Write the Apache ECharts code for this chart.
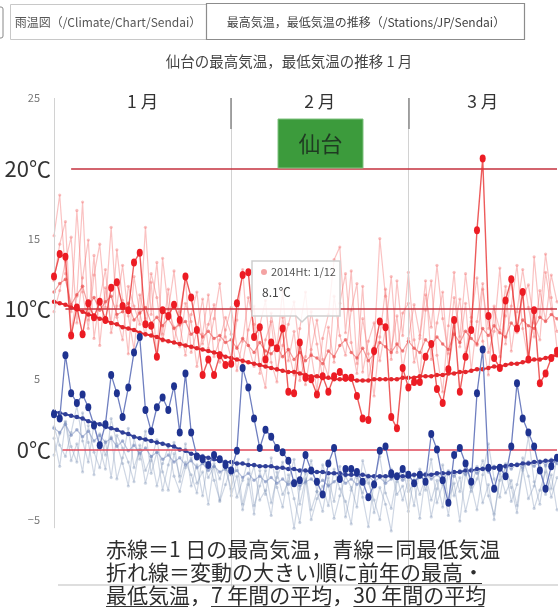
<!DOCTYPE html>
<html><head><meta charset="utf-8">
<script src="https://cdn.jsdelivr.net/npm/echarts@6/dist/echarts.min.js"></script>
<style>html,body{margin:0;padding:0;background:#fff;}#c{width:558px;height:608px;}</style>
</head><body><div id="c"></div>
<script>
const FONT = '"Noto Sans CJK JP","Noto Sans",sans-serif';

// ---- labels ----
const tabLabels = ['雨温図（/Climate/Chart/Sendai）', '最高気温，最低気温の推移（/Stations/JP/Sendai）'];
const titleText = '仙台の最高気温，最低気温の推移 1 月';
const stationName = '仙台';
const monthLabels = ['1 月', '2 月', '3 月'];
const monthLabelAt = [15.5, 46.5, 75];      // day index where month name sits
const monthStarts = [0, 31, 62];            // day index of month dividers
const yBigTicks = [20, 10, 0];              // labelled with ℃
const ySmallTicks = [25, 15, 5, -5];
const refLevels = [20, 10, 0];              // red reference lines
const refStartDay = [3, 2, 1.5];
const tipLines = ['2014Ht: 1/12', '8.1℃'];

// ---- previous year (bold) ----
const prevMax = [12.3,13.9,13.7,8.1,10.1,8.2,10.4,9.4,10.5,9.2,11.5,11.9,10.2,9.9,13.3,14.0,8.9,8.8,6.6,9.9,9.5,10.3,9.2,12.3,10.8,8.5,5.3,6.4,5.3,6.7,6.0,
 6.1,10.4,12.4,12.6,8.0,8.7,6.4,7.6,7.2,8.6,4.1,4.0,7.6,5.1,5.0,3.9,5.2,4.1,5.2,5.5,5.1,5.1,3.8,2.2,2.1,7.0,9.1,8.7,2.3,1.5,
 5.8,4.4,4.8,4.8,6.6,7.5,4.3,3.3,5.7,9.2,4.1,6.6,8.5,15.6,20.7,9.5,6.5,5.8,10.6,12.1,8.6,11.2,6.4,9.9,4.7,5.4,6.5,7.0];
const prevMin = [2.5,2.2,6.7,4.0,3.3,3.9,3.0,1.7,0.3,1.8,5.3,4.0,2.3,4.4,6.9,8.0,2.8,1.3,3.0,3.7,2.8,4.5,1.2,5.4,1.2,-0.5,-0.7,-1.1,-0.4,-0.7,-1.1,
 -1.5,-0.1,5.8,4.4,2.2,0.1,1.4,0.9,0.1,-0.2,-0.8,-2.4,-2.2,-0.4,-1.5,-2.3,-3.2,-1.0,0.1,-2.1,-1.4,-1.4,-1.6,-2.3,-3.4,-2.5,-0.1,0.2,-1.7,-1.9,
 -1.4,-1.8,-2.4,-1.8,-2.3,1.1,0.0,-2.2,-3.8,-0.4,0.1,-1.0,-2.3,4.0,7.1,-1.3,-2.8,-1.3,-1.9,0.2,4.7,2.2,1.2,0.2,-1.5,-2.8,-1.2,-0.6];

// ---- 30-year averages (smooth dotted) ----
const avg30Max = [10.5,10.4,10.3,10.1,10.0,9.8,9.6,9.5,9.3,9.2,9.0,8.9,8.7,8.6,8.5,8.3,8.2,8.1,8.0,7.8,7.7,7.6,7.5,7.4,7.3,7.2,7.1,7.0,6.9,6.8,6.6,
 6.5,6.4,6.3,6.2,6.1,6.0,5.9,5.8,5.7,5.6,5.5,5.5,5.4,5.3,5.2,5.2,5.1,5.1,5.0,5.0,5.0,5.0,4.9,4.9,4.9,5.0,5.0,5.0,5.0,5.0,
 5.1,5.1,5.1,5.2,5.2,5.2,5.3,5.3,5.4,5.4,5.5,5.5,5.6,5.7,5.7,5.8,5.9,5.9,6.0,6.1,6.1,6.2,6.3,6.4,6.4,6.5,6.6,6.7,6.8];
const avg30Min = [2.7,2.6,2.5,2.4,2.3,2.2,2.0,1.9,1.8,1.6,1.5,1.4,1.2,1.1,0.9,0.8,0.7,0.6,0.5,0.4,0.3,0.2,0.0,-0.1,-0.3,-0.4,-0.5,-0.6,-0.7,-0.8,-0.9,
 -0.9,-1.0,-1.0,-1.1,-1.1,-1.2,-1.2,-1.2,-1.3,-1.3,-1.4,-1.4,-1.5,-1.5,-1.6,-1.6,-1.6,-1.7,-1.7,-1.7,-1.8,-1.8,-1.8,-1.8,-1.9,-1.9,-1.9,-1.9,-1.9,-1.9,
 -1.9,-1.9,-1.8,-1.8,-1.8,-1.8,-1.7,-1.7,-1.7,-1.6,-1.6,-1.5,-1.5,-1.4,-1.4,-1.3,-1.3,-1.2,-1.2,-1.1,-1.1,-1.0,-1.0,-0.9,-0.9,-0.8,-0.8,-0.7];

// ---- 7-year averages ----
const avg7Max = [11.2,11.8,12.1,10.3,11.0,11.6,10.2,10.8,9.9,10.5,10.9,9.6,9.8,10.4,9.2,9.7,10.1,9.0,9.4,8.8,9.3,8.6,8.9,9.1,8.2,8.5,8.0,8.4,7.9,8.1,7.6,
 7.8,7.2,7.9,7.4,6.9,7.6,7.0,6.8,7.3,6.6,7.1,6.4,6.9,6.3,6.7,6.5,6.1,7.0,6.6,7.4,7.8,6.9,6.5,7.2,6.3,6.8,7.6,7.3,6.9,7.5,7.0,
 7.7,7.2,6.9,7.8,7.4,8.0,7.5,7.1,8.2,7.6,8.4,7.9,7.5,8.6,8.1,8.8,8.3,8.0,9.0,8.5,9.2,8.8,8.6,9.4,9.1,9.6,9.3];
const avg7Min = [1.5,1.2,1.8,1.0,1.4,0.9,1.3,0.6,1.0,0.5,0.8,0.2,0.6,-0.1,0.3,-0.3,0.1,-0.5,-0.2,-0.7,-0.4,-0.9,-0.6,-1.1,-0.8,-1.3,-1.0,-1.5,-1.2,-1.6,-1.4,
 -1.8,-1.5,-2.0,-1.7,-2.2,-1.9,-2.3,-2.0,-2.4,-2.1,-2.5,-2.2,-2.6,-2.3,-2.1,-2.5,-2.2,-2.6,-2.3,-2.0,-2.4,-2.1,-2.5,-2.2,-1.9,-2.3,-2.0,-2.4,-2.1,-1.8,-2.2,
 -1.9,-2.3,-2.0,-1.7,-2.1,-1.8,-2.2,-1.6,-1.9,-1.5,-1.8,-1.4,-1.7,-1.3,-1.6,-1.2,-1.5,-1.1,-1.4,-1.0,-1.3,-0.9,-1.2,-0.8,-1.1,-0.7,-1.0];

// ---- individual past years (faint) ----
const pastMaxA = [15.2,18.1,12.5,9.8,17.0,11.2,8.6,12.4,14.6,10.1,15.8,9.4,7.8,11.6,10.2,8.9,15.8,9.6,13.3,8.2,11.4,7.6,9.8,12.1,6.9,8.4,10.7,7.2,9.3,11.8,8.0,
 6.5,9.2,12.8,7.4,5.9,8.8,10.6,6.2,4.8,9.4,7.1,5.3,8.6,11.2,6.8,4.2,7.9,9.6,13.5,14.4,8.3,12.7,6.1,11.6,4.9,7.3,15.0,10.9,6.4,12.0,8.1,
 12.6,7.8,5.2,9.9,12.0,6.7,4.1,8.8,12.6,7.3,10.4,5.6,9.1,11.8,6.9,8.4,12.9,7.5,10.2,13.1,8.6,6.3,13.7,9.4,13.9,10.8,7.2];
const pastMaxB = [12.0,14.6,16.2,8.4,10.9,17.6,9.2,13.8,7.4,11.5,9.0,14.2,10.6,6.8,12.3,9.7,8.1,11.9,6.5,13.6,10.0,8.7,7.3,10.4,9.1,5.9,8.2,11.0,6.6,7.8,9.4,
 8.2,5.6,7.7,10.8,8.9,6.0,4.4,9.7,7.2,11.3,6.3,8.4,4.9,6.6,9.8,7.5,5.1,8.7,6.2,10.4,12.5,7.6,5.4,9.3,6.8,3.8,8.0,11.4,7.1,9.5,5.7,
 7.9,10.3,8.1,12.0,6.4,9.0,11.2,5.8,8.3,10.7,6.9,9.4,12.2,7.7,5.3,10.0,8.5,11.6,7.0,9.8,12.8,10.1,8.0,11.3,9.2,12.4,10.5];
const pastMaxC = [9.8,11.3,13.4,15.1,9.0,12.2,14.9,7.9,10.7,12.8,8.3,10.2,13.1,9.5,7.1,11.0,9.3,12.5,10.8,7.7,9.9,12.7,8.8,6.7,9.6,11.2,7.5,8.9,10.3,6.2,8.5,
 10.1,7.3,6.1,8.5,10.2,5.4,7.8,9.1,5.6,7.4,8.9,10.5,6.9,4.6,7.1,9.2,6.4,5.2,10.9,8.1,6.7,9.9,11.8,5.5,7.7,9.0,6.3,8.6,12.3,6.9,9.7,
 10.4,6.2,7.9,11.0,8.7,13.1,9.3,6.8,10.8,8.0,12.5,9.1,7.4,11.4,8.6,10.2,6.6,9.5,12.1,8.3,10.9,11.7,9.0,7.8,12.6,10.0,8.4];
const pastMinA = [0.8,-1.2,1.9,0.2,-0.9,2.6,0.5,-1.8,1.1,-0.4,0.9,-2.1,-0.6,1.5,-1.3,0.0,-2.4,-0.8,0.7,-1.6,-2.9,-0.3,-1.9,0.4,-2.6,-1.1,-3.3,-0.7,-2.2,-3.6,-1.4,
 -2.8,-0.9,-3.9,-2.1,-4.6,-1.5,-3.2,-0.6,-2.7,-4.1,-1.8,-3.5,-5.2,-2.4,-0.8,-3.0,-4.4,-2.0,-3.7,-1.2,-4.8,-2.9,-1.6,-3.4,-5.5,-2.3,-0.5,-3.1,-4.2,-1.9,-3.6,
 -2.2,-4.0,-1.4,-2.9,-0.7,-3.8,-2.5,-4.7,-1.6,-3.0,-0.9,-2.6,-4.3,-1.8,0.4,-2.1,-3.4,-1.0,-2.7,-4.5,-1.5,0.9,-2.3,-3.9,-1.2,-2.8,-0.6];
const pastMinB = [1.6,0.3,-0.5,1.2,3.1,0.6,-0.9,1.8,0.1,-1.4,2.2,0.4,-1.0,-2.6,0.8,-0.7,1.3,-1.7,-0.2,-2.9,-1.1,0.5,-2.3,-0.9,-1.8,-3.1,-0.4,-2.0,-1.2,-3.7,-2.5,
 -1.3,-3.4,-2.2,-0.7,-4.0,-2.6,-1.5,-3.8,-2.0,-0.9,-3.1,-5.6,-2.8,-1.7,-4.3,-3.0,-1.1,-2.5,-4.9,-3.3,-1.9,-2.7,-4.1,-0.8,-2.4,-3.6,-5.0,-2.2,-1.4,-3.2,-2.6,
 -4.4,-1.9,-3.2,-2.0,-4.8,-2.8,-1.1,-3.5,-2.4,-5.1,-1.7,-3.0,-2.1,-0.8,-3.3,-4.6,-2.2,-1.3,-3.7,-2.5,-0.6,-1.9,-4.2,-2.9,-1.6,-3.4,-2.0];
const pastMinC = [-0.4,1.1,2.0,-0.8,0.4,-1.6,1.7,-0.2,-1.3,0.6,-2.0,1.0,0.1,-0.9,-2.3,0.3,-1.5,-0.5,-2.6,-1.0,0.2,-1.9,-3.0,-1.3,-0.6,-2.4,-1.6,-3.9,-1.0,-2.1,-0.8,
 -3.3,-1.9,-4.3,-2.5,-1.2,-3.6,-2.9,-4.7,-1.6,-3.2,-2.3,-0.7,-3.9,-2.1,-5.0,-3.5,-2.6,-4.0,-1.4,-2.8,-3.7,-5.3,-2.0,-3.1,-1.8,-4.5,-2.7,-3.9,-5.8,-2.3,-1.5,
 -3.0,-2.4,-4.9,-1.8,-3.6,-2.2,-4.1,-1.5,-3.3,-2.0,-4.4,-2.7,-1.2,-3.8,-2.5,-5.0,-1.7,-3.1,-2.2,-4.0,-1.4,-3.5,-2.6,-0.9,-3.2,-1.8,-4.3];

const LAST = prevMax.length - 1;
const pts = arr => arr.map((v, i) => [i, v]);

function faint(arr, color) {
  return { type: 'line', data: pts(arr), symbol: 'circle', symbolSize: 3.2, silent: true,
    lineStyle: { width: 1.2, color: color }, itemStyle: { color: color }, z: 2 };
}
const PINK = 'rgba(242,110,110,0.42)', GREY = 'rgba(130,150,185,0.38)';

const chart = echarts.init(document.getElementById('c'), null, { renderer: 'canvas' });

const series = [
  Object.assign(faint(pastMaxA, PINK), {
    markLine: { silent: true, symbol: 'none', label: { show: false }, animation: false,
      data: monthStarts.map((d, k) => [
        { coord: [d, 25], lineStyle: { color: '#d2d2d2', width: 1, type: 'solid' } },
        { coord: [d, k === 0 ? -5.6 : -10] }
      ]).concat(monthStarts.slice(1).map(d => [
        { coord: [d, 25], lineStyle: { color: '#8a8a8a', width: 1.5, type: 'solid' } },
        { coord: [d, 22.8] }
      ])) } }),
  faint(pastMaxB, PINK),
  faint(pastMaxC, PINK),
  faint(pastMinA, GREY),
  faint(pastMinB, GREY),
  faint(pastMinC, GREY),
  { type: 'line', data: pts(avg7Max), symbol: 'circle', symbolSize: 3.5, silent: true, z: 3,
    lineStyle: { width: 1.2, color: 'rgba(235,80,80,0.55)' }, itemStyle: { color: 'rgba(235,80,80,0.7)' } },
  { type: 'line', data: pts(avg7Min), symbol: 'circle', symbolSize: 3.5, silent: true, z: 3,
    lineStyle: { width: 1.2, color: 'rgba(120,140,190,0.5)' }, itemStyle: { color: 'rgba(120,140,190,0.6)' } },
  { type: 'line', data: pts(avg30Max), symbol: 'circle', symbolSize: 4.5, silent: true, z: 4,
    lineStyle: { width: 2, color: '#e4262c' }, itemStyle: { color: '#e4262c' } },
  { type: 'line', data: pts(avg30Min), symbol: 'circle', symbolSize: 4.5, silent: true, z: 4,
    lineStyle: { width: 2, color: '#3a4a9e' }, itemStyle: { color: '#2f3f98' },
    markLine: { silent: true, symbol: 'none', label: { show: false }, animation: false,
      data: refLevels.map((v, k) => [
        { coord: [refStartDay[k], v], lineStyle: { color: v === 0 ? '#e0485a' : '#c4303e', width: 1.6, type: 'solid' } },
        { coord: [LAST, v] }
      ]) } },
  { type: 'line', data: pts(prevMin), symbol: 'circle', symbolSize: [6, 8], silent: true, z: 5,
    lineStyle: { width: 1.3, color: '#6f7fc0' }, itemStyle: { color: '#1f3390' } },
  { type: 'line', data: pts(prevMax), symbol: 'circle', symbolSize: [6, 8], silent: true, z: 6,
    lineStyle: { width: 1.4, color: 'rgba(232,50,50,0.8)' }, itemStyle: { color: '#ec1c24' } }
];

chart.setOption({
  animation: false,
  backgroundColor: '#fff',
  grid: { left: 54, right: 1, top: 98, bottom: 18, containLabel: false },
  xAxis: { type: 'value', min: 0, max: LAST, interval: 31, axisLine: { show: false },
    axisTick: { show: false }, axisLabel: { show: false }, splitLine: { show: false } },
  yAxis: { type: 'value', min: -10, max: 25, interval: 5, axisLine: { show: false },
    axisTick: { show: false }, splitLine: { show: false },
    axisLabel: { margin: 3, fontFamily: FONT,
      formatter: v => yBigTicks.indexOf(v) >= 0 ? '{b|' + v + '℃}' : (ySmallTicks.indexOf(v) >= 0 ? '{s|' + (v < 0 ? '−' + (-v) : v) + '}' : ''),
      rich: {
        b: { fontSize: 22, color: '#333', fontFamily: FONT },
        s: { fontSize: 11, color: '#777', fontFamily: FONT, padding: [0, 11, 0, 0] }
      } } },
  series: series
});

// ---- decorations (texts, boxes) ----
const ctx = document.createElement('canvas').getContext('2d');
function textW(t, size) { ctx.font = size + 'px ' + FONT; return ctx.measureText(t).width; }

const g = [];
// tabs
g.push({ type: 'rect', shape: { x: -20, y: 7, width: 23, height: 31, r: 2 }, style: { fill: '#fff', stroke: '#888', lineWidth: 1 }, z: 100 });
g.push({ type: 'rect', shape: { x: 10.5, y: 4.5, width: 196, height: 35 }, style: { fill: '#fff', stroke: '#c8c8c8', lineWidth: 1 }, z: 100 });
g.push({ type: 'rect', shape: { x: 206.5, y: 3.5, width: 318, height: 36 }, style: { fill: '#fff', stroke: '#8c8c8c', lineWidth: 1.2 }, z: 101 });
g.push({ type: 'text', x: 108, y: 22, style: { text: tabLabels[0], font: '12px ' + FONT, fill: '#555', align: 'center', verticalAlign: 'middle' }, z: 102 });
g.push({ type: 'text', x: 366, y: 22, style: { text: tabLabels[1], font: '12px ' + FONT, fill: '#444', align: 'center', verticalAlign: 'middle' }, z: 102 });
// title
g.push({ type: 'text', x: 289, y: 61, style: { text: titleText, font: '14.5px ' + FONT, fill: '#444', align: 'center', verticalAlign: 'middle' }, z: 102 });
// month labels
monthLabels.forEach((m, k) => {
  const p = chart.convertToPixel({ gridIndex: 0 }, [monthLabelAt[k], 25]);
  g.push({ type: 'text', x: p[0], y: p[1] + 3, style: { text: m, font: '17.5px ' + FONT, fill: '#333', align: 'center', verticalAlign: 'middle' }, z: 102 });
});
// station badge
g.push({ type: 'rect', shape: { x: 278, y: 119, width: 85, height: 49 }, style: { fill: '#3c9b3c', stroke: '#7fc27f', lineWidth: 1 }, z: 102 });
g.push({ type: 'text', x: 320.5, y: 144, style: { text: stationName, font: '22px ' + FONT, fill: '#1f3a22', align: 'center', verticalAlign: 'middle' }, z: 103 });
// tooltip-like box
const tx = 252, ty = 261;
g.push({ type: 'polygon', shape: { points: [[tx, ty], [tx + 88, ty], [tx + 88, ty + 55], [tx + 56, ty + 55], [tx + 50, ty + 61], [tx + 44, ty + 55], [tx, ty + 55]] },
  style: { fill: 'rgba(255,255,255,0.82)', stroke: '#cfcfcf', lineWidth: 1.5 }, z: 110 });
g.push({ type: 'circle', shape: { cx: tx + 12, cy: ty + 11, r: 3 }, style: { fill: '#f4a3a3' }, z: 111 });
g.push({ type: 'text', x: tx + 19, y: ty + 11, style: { text: tipLines[0], font: '11px ' + FONT, fill: '#555', verticalAlign: 'middle' }, z: 111 });
g.push({ type: 'text', x: tx + 10, y: ty + 31, style: { text: tipLines[1], font: '12px ' + FONT, fill: '#444', verticalAlign: 'middle' }, z: 111 });
// bottom grey rule
g.push({ type: 'line', shape: { x1: 58, y1: 585, x2: 558, y2: 585 }, style: { stroke: '#bdbdbd', lineWidth: 1 }, z: 90 });
// caption
const capLines = [
  [['赤線＝1 日の最高気温，青線＝同最低気温', 0]],
  [['折れ線＝変動の大きい順に', 0], ['前年の最高・', 1]],
  [['最低気温', 1], ['，', 0], ['7 年間の平均', 1], ['，', 0], ['30 年間の平均', 1]]
];
const capY = [549, 572.5, 595.5];
const CAPSIZE = 21;
capLines.forEach((segs, li) => {
  let x = 106;
  segs.forEach(([t, u]) => {
    const w = textW(t, CAPSIZE);
    g.push({ type: 'text', x: x, y: capY[li], style: { text: t, font: CAPSIZE + 'px ' + FONT, fill: '#2e2e2e', verticalAlign: 'middle' }, z: 120 });
    if (u) g.push({ type: 'line', shape: { x1: x, y1: capY[li] + 11, x2: x + w - 2, y2: capY[li] + 11 }, style: { stroke: '#333', lineWidth: 1.2 }, z: 121 });
    x += w;
  });
});
chart.setOption({ graphic: g });
</script></body></html>
